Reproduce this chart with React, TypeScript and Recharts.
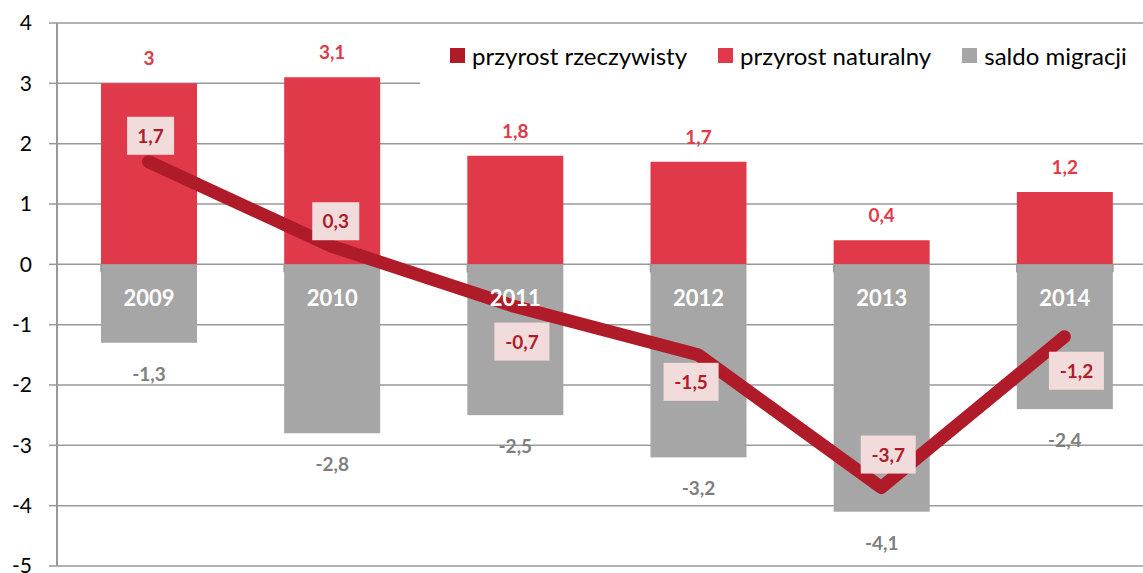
import React from 'react';
import { ComposedChart, Bar, Line, XAxis, YAxis, CartesianGrid, LabelList, Legend } from 'recharts';

const YEARS = ['2009', '2010', '2011', '2012', '2013', '2014'];
const NATURAL = [3, 3.1, 1.8, 1.7, 0.4, 1.2];
const MIGRATION = [-1.3, -2.8, -2.5, -3.2, -4.1, -2.4];
const REAL = [1.7, 0.3, -0.7, -1.5, -3.7, -1.2];
const Y_TICKS = [-5, -4, -3, -2, -1, 0, 1, 2, 3, 4];
const SERIES_NAMES = ['przyrost rzeczywisty', 'przyrost naturalny', 'saldo migracji'];

const data = YEARS.map((year, i) => ({
  year,
  nat: NATURAL[i],
  mig: MIGRATION[i],
  real: REAL[i],
}));

const C_LINE = '#B01B29';
const C_RED = '#E03A4A';
const C_GRAY = '#A6A6A6';
const C_GRAY_TXT = '#7F7F7F';
const C_BOX = '#F2DCDB';
const C_GRID = '#999999';
const FONT = 'Lato, "Open Sans", sans-serif';

// label placement relative to line point (dx, dy of box centre)
const LINE_LABEL_OFFSETS = [
  [2, -26],
  [4, -25],
  [7, 35],
  [-7, 27],
  [7, -33],
  [12, 34],
];

const fmt = (v: number) => String(v).replace('.', ',');

const MigShape = (props: any) => {
  const { x, y, width, height, fill, background, index } = props;
  const top = Math.min(y, y + height);
  const h = Math.abs(height);
  const bandX = background ? background.x : x - 43.6;
  const bandW = background ? background.width : 183.2;
  return (
    <g>
      <rect x={x} y={top} width={width} height={h} fill={fill} />
      <line x1={bandX} x2={bandX} y1={top} y2={top + 8} stroke={C_GRID} strokeWidth={1.5} />
      {index === YEARS.length - 1 && (
        <line x1={bandX + bandW} x2={bandX + bandW} y1={top} y2={top + 8} stroke={C_GRID} strokeWidth={1.5} />
      )}
    </g>
  );
};

const NatLabel = (props: any) => {
  const { x, y, width, height, value } = props;
  const top = Math.min(y, y + height);
  return (
    <text x={x + width / 2} y={top - 18} textAnchor="middle" fill={C_RED} fontFamily={FONT} fontWeight={700} fontSize={19}>
      {fmt(value)}
    </text>
  );
};

const MigLabel = (props: any) => {
  const { x, y, width, height, value } = props;
  const bottom = Math.max(y, y + height);
  return (
    <text x={x + width / 2} y={bottom + 38} textAnchor="middle" fill={C_GRAY_TXT} fontFamily={FONT} fontWeight={700} fontSize={19}>
      {fmt(value)}
    </text>
  );
};

const YearLabel = (props: any) => {
  const { x, y, width, height, value } = props;
  const top = Math.min(y, y + height);
  return (
    <text x={x + width / 2} y={top + 42} textAnchor="middle" fill="#FFFFFF" fontFamily={FONT} fontWeight={700} fontSize={22}>
      {value}
    </text>
  );
};

const LineLabel = (props: any) => {
  const { x, y, value, index } = props;
  const [dx, dy] = LINE_LABEL_OFFSETS[index] || [0, -26];
  const cx = x + dx;
  const cy = y + dy;
  const txt = fmt(value);
  const w = txt.startsWith('-') ? 55 : 47;
  return (
    <g>
      <rect x={cx - w / 2} y={cy - 19} width={w} height={38} fill={C_BOX} />
      <text x={cx} y={cy + 7} textAnchor="middle" fill={C_LINE} fontFamily={FONT} fontWeight={700} fontSize={19}>
        {txt}
      </text>
    </g>
  );
};

const LegendContent = () => {
  const colors = [C_LINE, C_RED, C_GRAY];
  return (
    <div
      style={{
        background: '#fff',
        height: 58,
        display: 'flex',
        alignItems: 'center',
        paddingLeft: 30,
        fontFamily: FONT,
        fontSize: 24,
        color: '#000',
        whiteSpace: 'nowrap',
      }}
    >
      {SERIES_NAMES.map((n, i) => (
        <div key={n} style={{ display: 'flex', alignItems: 'center', marginRight: i < 2 ? 31 : 0 }}>
          <div style={{ width: 15, height: 15, background: colors[i], marginRight: 7 }} />
          <span>{n}</span>
        </div>
      ))}
    </div>
  );
};

export default function App() {
  return (
    <div style={{ position: 'absolute', left: 0, top: 0, width: 1143, height: 573, background: '#fff', overflow: 'hidden' }}>
      <ComposedChart
        width={1156}
        height={573}
        data={data}
        stackOffset="sign"
        margin={{ top: 23, right: 0, bottom: 7, left: 0 }}
        barSize={96}
      >
        <CartesianGrid vertical={false} stroke={C_GRID} strokeWidth={1.5} />
        <XAxis dataKey="year" hide />
        <YAxis
          domain={[-5, 4]}
          ticks={Y_TICKS}
          width={57}
          interval={0}
          axisLine={{ stroke: C_GRID, strokeWidth: 2 }}
          tickLine={{ stroke: C_GRID, strokeWidth: 1.5 }}
          tickSize={8}
          tickMargin={17}
          tick={{ fill: '#000', fontSize: 21, fontFamily: FONT }}
        />
        <Legend
          layout="horizontal"
          verticalAlign="middle"
          align="center"
          content={<LegendContent />}
          wrapperStyle={{ position: 'absolute', top: 26, left: 420, width: 736, height: 58 }}
        />
        <Bar dataKey="nat" stackId="a" fill={C_RED} isAnimationActive={false}>
          <LabelList dataKey="nat" content={<NatLabel />} />
        </Bar>
        <Bar dataKey="mig" stackId="a" fill={C_GRAY} shape={<MigShape />} isAnimationActive={false}>
          <LabelList dataKey="mig" content={<MigLabel />} />
          <LabelList dataKey="year" content={<YearLabel />} />
        </Bar>
        <Line
          dataKey="real"
          type="linear"
          stroke={C_LINE}
          strokeWidth={13}
          strokeLinecap="round"
          strokeLinejoin="round"
          dot={false}
          activeDot={false}
          isAnimationActive={false}
        >
          <LabelList dataKey="real" content={<LineLabel />} />
        </Line>
      </ComposedChart>
    </div>
  );
}
